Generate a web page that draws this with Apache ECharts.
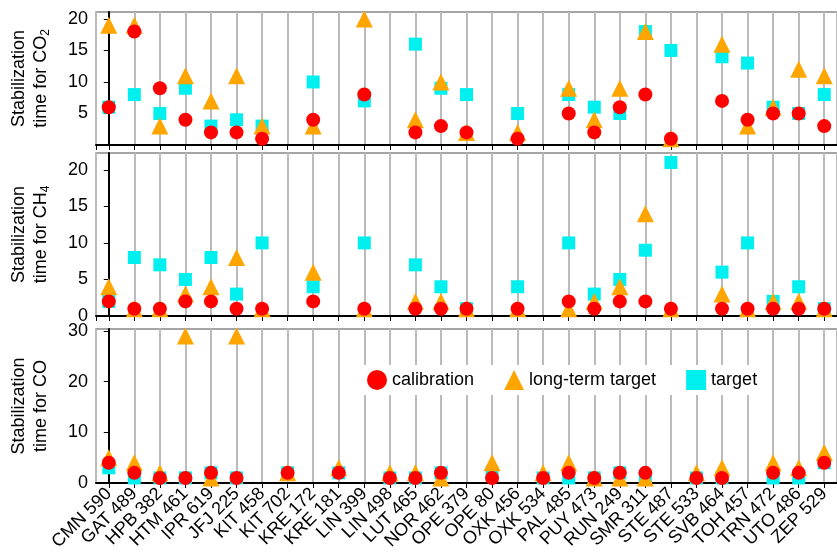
<!DOCTYPE html>
<html>
<head>
<meta charset="utf-8">
<script src="https://cdn.jsdelivr.net/npm/echarts@6/dist/echarts.min.js"></script>
<style>html,body{margin:0;padding:0;background:#fff}#main{width:837px;height:560px}</style>
</head>
<body>
<div id="main"></div>
<script>
var stations = ['CMN 590','GAT 489','HPB 382','HTM 461','IPR 619','JFJ 225','KIT 458','KIT 702','KRE 172','KRE 181',
    'LIN 399','LIN 498','LUT 465','NOR 462','OPE 379','OPE 80','OXK 456','OXK 534','PAL 485','PUY 473',
    'RUN 249','SMR 311','STE 487','STE 533','SVB 464','TOH 457','TRN 472','UTO 486','ZEP 529'];
var n = null;
// CO2
var co2Cal  = [6,18,9,4,2,2,1,n,4,n,8,n,2,3,2,n,1,n,5,2,6,8,1,n,7,4,5,5,3];
var co2Long = [19,19,3,11,7,11,3,n,3,n,20,n,4,10,2,n,2,n,9,4,9,18,1,n,16,3,6,12,11];
var co2Tgt  = [6,8,5,9,3,4,3,n,10,n,7,n,16,9,8,n,5,n,8,6,5,18,15,n,14,13,6,5,8];
// CH4
var ch4Cal  = [2,1,1,2,2,1,1,n,2,n,1,n,1,1,1,n,1,n,2,1,2,2,1,n,1,1,1,1,1];
var ch4Long = [4,1,1,3,4,8,1,n,6,n,1,n,2,2,1,n,1,n,1,2,4,14,1,n,3,1,2,2,1];
var ch4Tgt  = [2,8,7,5,8,3,10,n,4,n,10,n,7,4,1,n,4,n,10,3,5,9,21,n,6,10,2,4,1];
// CO
var coCal   = [4,2,1,1,2,1,n,2,n,2,n,1,1,2,n,1,n,1,2,1,2,2,n,1,1,n,2,2,4];
var coLong  = [5,4,2,29,1,29,n,2,n,3,n,2,2,1,n,4,n,2,4,1,1,1,n,2,3,n,4,3,6];
var coTgt   = [3,1,1,1,2,1,n,2,n,2,n,1,1,2,n,2,n,1,1,1,2,1,n,1,1,n,1,1,4];

var chart = echarts.init(document.getElementById('main'));
var font = 'Liberation Sans, Arial, sans-serif';
var narrow = 'Liberation Sans Narrow, Liberation Sans, sans-serif';
var grids = [
    {left: 95, top: 12, width: 749, height: 133},
    {left: 95, top: 153, width: 749, height: 163},
    {left: 95, top: 329, width: 749, height: 154}
];
grids.forEach(function (g) { g.show = true; g.borderColor = '#888'; g.borderWidth = 1.5; g.backgroundColor = '#fff'; });

var xAxes = [0, 1, 2].map(function (i) {
    return {
        type: 'value', gridIndex: i, min: -0.5, max: stations.length - 0.5,
        minInterval: 1, maxInterval: 1,
        axisLine: {onZero: false, lineStyle: {color: '#000', width: 2}},
        axisTick: {show: true, length: 5, lineStyle: {color: '#000'}},
        splitLine: {show: true, lineStyle: {color: '#bbb', width: 2}},
        axisLabel: i === 2 ? {
            interval: 0, rotate: 45, fontSize: 18, color: '#000', fontFamily: narrow, margin: 8,
            showMinLabel: false, showMaxLabel: false,
            formatter: function (v) { return Number.isInteger(v) && stations[v] ? stations[v] : ''; }
        } : {show: false}
    };
});
function yAx(i, max, interval, name, hideZero) {
    return {
        type: 'value', gridIndex: i, min: 0, max: max, interval: interval,
        name: name, nameLocation: 'middle', nameGap: 44, nameRotate: 90,
        nameTextStyle: {fontSize: 18, color: '#000', fontFamily: font, lineHeight: 22,
            rich: {sub: {fontSize: 12, verticalAlign: 'bottom', padding: [8, 0, 0, 0], fontFamily: font}}},
        axisLine: {show: true, lineStyle: {color: '#000', width: 2}},
        axisTick: {show: true, length: 5, lineStyle: {color: '#000'}},
        splitLine: {show: false},
        axisLabel: {fontSize: 18, color: '#000', fontFamily: font, showMaxLabel: false,
            formatter: function (v) { return (hideZero && v === 0) ? '' : v; }}
    };
}
var yAxes = [
    yAx(0, 21.1, 5, 'Stabilization\ntime for CO{sub|2}', true),
    yAx(1, 22.3, 5, 'Stabilization\ntime for CH{sub|4}', false),
    yAx(2, 30.4, 10, 'Stabilization\ntime for CO', false)
];

var sets = [[co2Tgt, co2Long, co2Cal], [ch4Tgt, ch4Long, ch4Cal], [coTgt, coLong, coCal]];
var styles = [
    {name: 'target', symbol: 'rect', size: 13, color: '#00f0f0'},
    {name: 'long-term target', symbol: 'triangle', size: 17, color: '#ffa500'},
    {name: 'calibration', symbol: 'circle', size: 14, color: '#ff0000'}
];
function pairs(arr) {
    return arr.map(function (v, j) { return v === null ? null : [j, v]; }).filter(function (p) { return p; });
}
var series = [];
sets.forEach(function (set, i) {
    set.forEach(function (d, k) {
        series.push({
            type: 'scatter', name: styles[k].name, xAxisIndex: i, yAxisIndex: i,
            data: pairs(d), symbol: styles[k].symbol, symbolSize: styles[k].size,
            itemStyle: {color: styles[k].color, opacity: 1}, z: 3 + k
        });
    });
});

chart.setOption({
    animation: false,
    grid: grids, xAxis: xAxes, yAxis: yAxes, series: series,
    legend: {
        data: ['calibration', 'long-term target', 'target'],
        left: 362, top: 365, itemGap: 30, itemWidth: 20, itemHeight: 20,
        backgroundColor: '#fff',
        textStyle: {fontSize: 18, color: '#000', fontFamily: narrow}
    }
});
</script>
</body>
</html>
